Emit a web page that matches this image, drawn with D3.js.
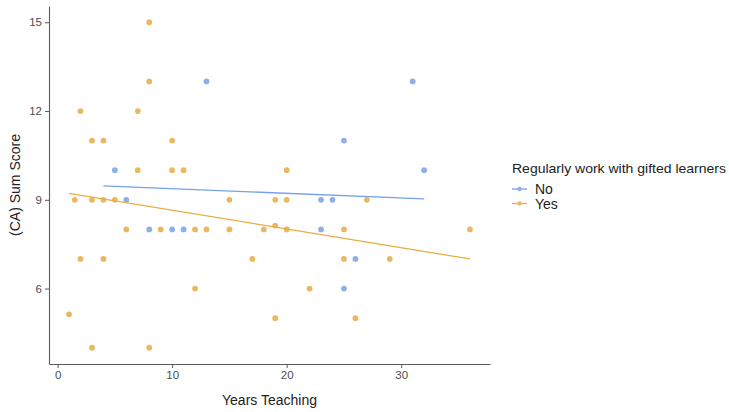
<!DOCTYPE html>
<html>
<head>
<meta charset="utf-8">
<script src="https://cdn.jsdelivr.net/npm/d3@7"></script>
<style>
  body { margin: 0; background: #fff; }
  text { font-family: "Liberation Sans", Arial, sans-serif; }
</style>
</head>
<body>
<div id="chart"></div>
<script>
// group names, in legend order
const groups = ['No', 'Yes'];

// points: years teaching, sum score
const noYears  = [5, 6, 8, 10, 11, 13, 23, 24, 23, 25, 25, 26, 31, 32];
const noScore  = [10, 9, 8, 8, 8, 13, 9, 9, 8, 11, 6, 7, 13, 10];
const yesYears = [8, 8, 2, 7, 3, 4, 10, 7, 10, 11, 20,
                  1.5, 3, 4, 5, 15, 19, 20, 27,
                  6, 9, 12, 13, 15, 18, 19, 20, 25, 36,
                  2, 4, 17, 25, 29,
                  12, 22,
                  1, 19, 26,
                  3, 8];
const yesScore = [15, 13, 12, 12, 11, 11, 11, 10, 10, 10, 10,
                  9, 9, 9, 9, 9, 9, 9, 9,
                  8, 8, 8, 8, 8, 8, 8.13, 8, 8, 8,
                  7, 7, 7, 7, 7,
                  6, 6,
                  5.13, 5, 5,
                  4, 4];

// fitted lm lines (ends)
const fitNo  = [[4, 9.47], [32, 9.03]];
const fitYes = [[1, 9.22], [36, 7.0]];

// tick labels
const xTicks = [0, 10, 20, 30];
const yTicks = [6, 9, 12, 15];

const svgW = 729, svgH = 412;
const margin = { top: 6, right: 239, bottom: 48, left: 49 };

const pointColor = { No: '#8db0ea', Yes: '#ebb762' };
const lineColor  = { No: '#76a1ec', Yes: '#e8ad45' };

const chart = d3.select('#chart').append('svg')
  .attr('width', svgW)
  .attr('height', svgH);

const x = d3.scaleLinear()
  .domain([-0.75, 37.75])
  .range([margin.left, svgW - margin.right]);
const y = d3.scaleLinear()
  .domain([3.45, 15.55])
  .range([svgH - margin.bottom, margin.top]);

// axes (classic theme: grey lines, no grid)
const xAxis = chart.append('g')
  .attr('transform', `translate(0,${svgH - margin.bottom})`)
  .call(d3.axisBottom(x).tickValues(xTicks).tickSize(4).tickPadding(3).tickSizeOuter(0));
const yAxis = chart.append('g')
  .attr('transform', `translate(${margin.left},0)`)
  .call(d3.axisLeft(y).tickValues(yTicks).tickSize(4).tickPadding(3).tickSizeOuter(0));
[xAxis, yAxis].forEach(a => {
  a.select('.domain').attr('stroke', '#5a5a5a').attr('stroke-width', 1.1);
  a.selectAll('.tick line').attr('stroke', '#5a5a5a');
  a.selectAll('.tick text').attr('fill', '#4d4d4d').style('font-size', '11.5px');
});

// points
const pts = [];
noYears.forEach((v, i) => pts.push({ grp: 'No', x: v, y: noScore[i] }));
yesYears.forEach((v, i) => pts.push({ grp: 'Yes', x: v, y: yesScore[i] }));
chart.append('g').selectAll('circle')
  .data(pts)
  .join('circle')
  .attr('cx', d => x(d.x))
  .attr('cy', d => y(d.y))
  .attr('r', 2.9)
  .attr('fill', d => pointColor[d.grp]);

// fit lines
const line = d3.line().x(d => x(d[0])).y(d => y(d[1]));
[['No', fitNo], ['Yes', fitYes]].forEach(([g, f]) => {
  chart.append('path')
    .attr('d', line(f))
    .attr('fill', 'none')
    .attr('stroke', lineColor[g])
    .attr('stroke-width', 1.3);
});

// axis titles
chart.append('text')
  .attr('x', (margin.left + svgW - margin.right) / 2).attr('y', 405)
  .attr('text-anchor', 'middle').attr('fill', '#222')
  .style('font-size', '14px').text('Years Teaching');
chart.append('text')
  .attr('transform', 'rotate(-90)')
  .attr('x', -(margin.top + svgH - margin.bottom) / 2).attr('y', 20)
  .attr('text-anchor', 'middle').attr('fill', '#222')
  .style('font-size', '14px').text('(CA) Sum Score');

// legend
const legend = chart.append('g').attr('transform', 'translate(512,0)');
legend.append('text')
  .attr('x', 0).attr('y', 173)
  .attr('fill', '#222').style('font-size', '13.6px')
  .attr('textLength', 214).attr('lengthAdjust', 'spacingAndGlyphs')
  .text('Regularly work with gifted learners');
groups.forEach((g, i) => {
  const row = legend.append('g').attr('transform', `translate(0,${189 + i * 14.5})`);
  row.append('line').attr('x1', 0).attr('x2', 15)
    .attr('stroke', lineColor[g]).attr('stroke-width', 1.3);
  row.append('circle').attr('cx', 7.5).attr('r', 2.2).attr('fill', pointColor[g]);
  row.append('text').attr('x', 23).attr('y', 5)
    .attr('fill', '#222').style('font-size', '14px').text(g);
});
</script>
</body>
</html>
